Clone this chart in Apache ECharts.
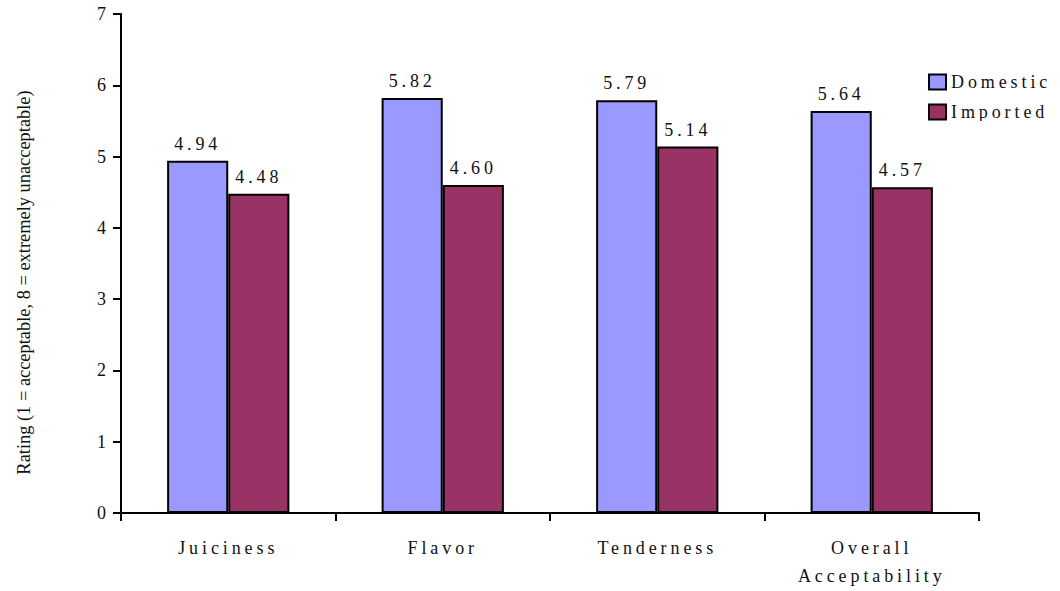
<!DOCTYPE html>
<html>
<head>
<meta charset="utf-8">
<script src="https://cdn.jsdelivr.net/npm/echarts@6/dist/echarts.min.js"></script>
<style>
  html, body { margin: 0; padding: 0; background: #fff; }
  #chart { width: 1060px; height: 591px; }
  /* wide tracking for the serif labels; the rotated axis title stays tight */
  #chart text { letter-spacing: 3.9px; }
  #chart text[style*="18.4px"] { letter-spacing: 0; }
</style>
</head>
<body>
<div id="chart"></div>
<script>
const categories = ['Juiciness', 'Flavor', 'Tenderness', 'Overall\nAcceptability'];
const domestic = [4.94, 5.82, 5.79, 5.64];
const imported = [4.48, 4.60, 5.14, 4.57];
const yTicks = [0, 1, 2, 3, 4, 5, 6, 7];

const serif = "'Liberation Serif', 'Times New Roman', serif";
const ink = '#000';

const chart = echarts.init(document.getElementById('chart'), null, { renderer: 'svg' });

chart.setOption({
  animation: false,
  backgroundColor: '#fff',
  grid: { left: 121, right: 81, top: 14, bottom: 78 },
  legend: {
    orient: 'vertical',
    left: 923,
    top: 68,
    itemWidth: 17,
    itemHeight: 15,
    itemGap: 12,
    icon: 'rect',
    textStyle: { fontFamily: serif, fontSize: 18, color: '#111' },
    data: ['Domestic', 'Imported']
  },
  // the legend frame is cropped just under the second entry
  graphic: [{
    type: 'rect',
    left: 947, top: 121,
    shape: { width: 113, height: 10 },
    style: { fill: '#fff' },
    z: 100
  }],
  xAxis: {
    type: 'category',
    data: categories,
    axisLine: { lineStyle: { color: ink, width: 2 } },
    axisTick: { show: true, alignWithLabel: false, length: 8, lineStyle: { color: ink, width: 2 } },
    axisLabel: {
      fontFamily: serif, fontSize: 18, color: '#111',
      margin: 21, lineHeight: 28, interval: 0
    }
  },
  yAxis: {
    type: 'value',
    min: yTicks[0],
    max: yTicks[yTicks.length - 1],
    interval: 1,
    name: 'Rating (1 = acceptable, 8 = extremely unacceptable)',
    nameLocation: 'middle',
    nameGap: 88,
    nameRotate: 90,
    nameTextStyle: { fontFamily: serif, fontSize: 18.4, color: '#111', padding: [0, 38, 0, 0] },
    splitLine: { show: false },
    axisLine: { show: true, lineStyle: { color: ink, width: 2 } },
    axisTick: { show: true, length: 8, lineStyle: { color: ink, width: 2 } },
    axisLabel: { fontFamily: serif, fontSize: 18, color: '#111', margin: 11 }
  },
  series: [
    {
      name: 'Domestic',
      type: 'bar',
      data: domestic,
      barGap: '0%',
      barCategoryGap: '43%',
      itemStyle: { color: '#9999ff', borderColor: ink, borderWidth: 2 },
      label: {
        show: true, position: 'top', distance: 8,
        fontFamily: serif, fontSize: 18, color: '#111',
        formatter: p => p.value.toFixed(2)
      }
    },
    {
      name: 'Imported',
      type: 'bar',
      data: imported,
      itemStyle: { color: '#993366', borderColor: ink, borderWidth: 2 },
      label: {
        show: true, position: 'top', distance: 8,
        fontFamily: serif, fontSize: 18, color: '#111',
        formatter: p => p.value.toFixed(2)
      }
    }
  ]
});
</script>
</body>
</html>
